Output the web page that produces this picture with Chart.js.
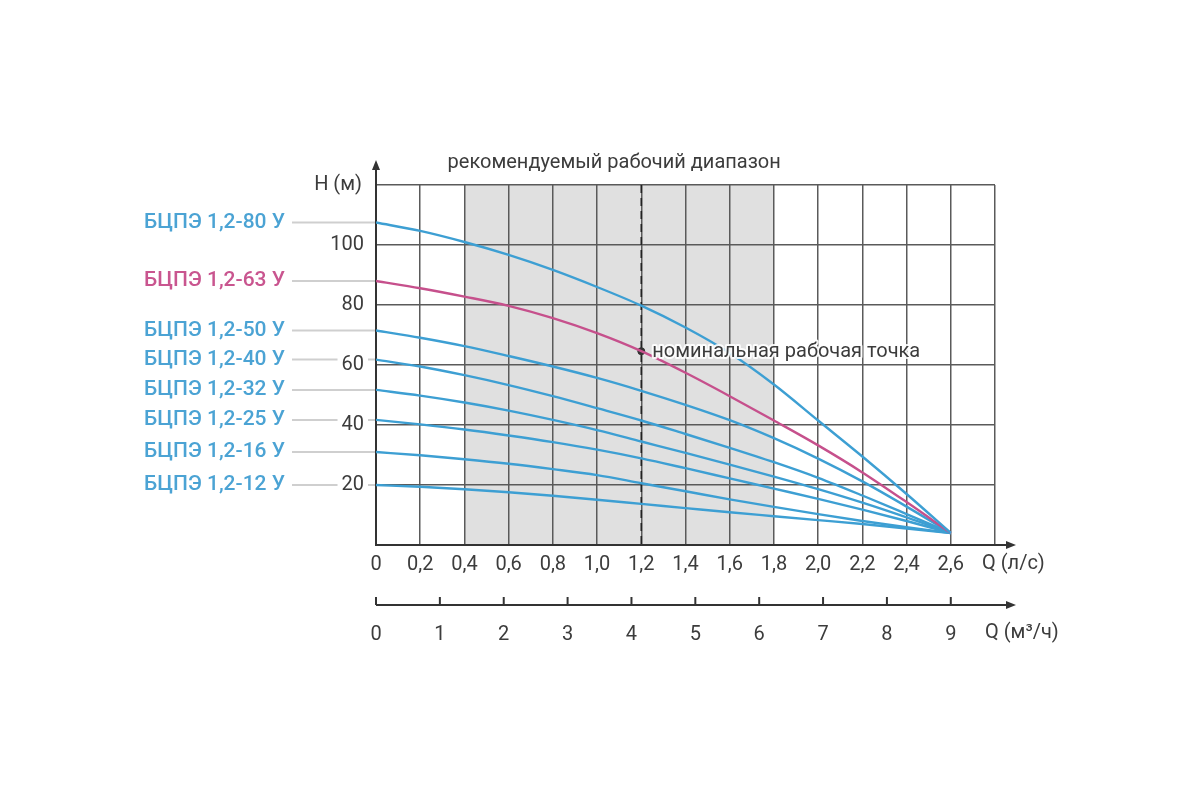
<!DOCTYPE html>
<html>
<head>
<meta charset="utf-8">
<script src="https://cdn.jsdelivr.net/npm/chart.js@4"></script>
<style>
  html, body { margin: 0; padding: 0; background: #fff; }
  #wrap { width: 1200px; height: 800px; }
</style>
</head>
<body>
<div id="wrap"><canvas id="chart" width="1200" height="800"></canvas></div>
<script>
// расход, л/с
const qLs = [0, 0.2, 0.4, 0.6, 0.8, 1.0, 1.2, 1.4, 1.6, 1.8, 2.0, 2.2, 2.4, 2.6];
// второй масштаб, м3/ч
const qM3h = [0, 1, 2, 3, 4, 5, 6, 7, 8, 9];

const pumpNames = ["БЦПЭ 1,2-80 У", "БЦПЭ 1,2-63 У", "БЦПЭ 1,2-50 У", "БЦПЭ 1,2-40 У",
                   "БЦПЭ 1,2-32 У", "БЦПЭ 1,2-25 У", "БЦПЭ 1,2-16 У", "БЦПЭ 1,2-12 У"];

// напор H (м) по точкам qLs
const h80 = [107.5, 104.7, 101, 96.7, 91.7, 86, 79.8, 72.5, 64, 53.5, 41.5, 29.5, 17, 4];
const h63 = [88, 85.6, 82.8, 79.7, 75.6, 70.6, 64.6, 57.4, 49.6, 41.5, 33.2, 24.2, 14.3, 4];
const h50 = [71.5, 69.1, 66.3, 63, 59.5, 55.7, 51.4, 46.7, 41.6, 35.6, 28.8, 21.2, 12.8, 4];
const h40 = [61.8, 59.5, 56.6, 53.3, 49.6, 45.6, 41.5, 37, 32.4, 27.6, 22.4, 16.5, 10.3, 4];
const h32 = [51.7, 49.8, 47.5, 44.8, 41.7, 38.3, 34.5, 30.7, 26.8, 22.8, 18.6, 14.1, 9.2, 4];
const h25 = [41.7, 40.2, 38.5, 36.5, 34.3, 31.8, 28.9, 25.6, 22.2, 18.8, 15.4, 11.8, 8, 4];
const h16 = [31, 29.9, 28.6, 27.1, 25.3, 23.3, 20.6, 17.9, 15.2, 12.7, 10.3, 8, 5.9, 4];
const h12 = [20, 19.4, 18.6, 17.6, 16.4, 15.1, 13.7, 12.3, 10.9, 9.6, 8.3, 7, 5.5, 4];

const curves = [h80, h63, h50, h40, h32, h25, h16, h12];

const rangeFrom = 0.4;
const rangeTo = 1.8;
const nominalQ = 1.2;
const nominalH = 64.6;

const blue = "#3d9fd3";
const pink = "#c6508c";
const labelBlue = "#4ba3d4";
const labelPink = "#c9558f";
const txt = "#3c3c3c";
const font = "Roboto, 'Open Sans', sans-serif";

const lineColors = curves.map((_, i) => (i === 1 ? pink : blue));

const fmtLs = (v) => {
  if (v > 2.7) return "";
  if (Math.abs(v) < 1e-9) return "0";
  return v.toFixed(1).replace(".", ",");
};

const arrow = (ctx, x, y, dir) => {
  ctx.beginPath();
  if (dir === "up") {
    ctx.moveTo(x, y);
    ctx.lineTo(x - 4, y + 10);
    ctx.lineTo(x + 4, y + 10);
  } else {
    ctx.moveTo(x, y);
    ctx.lineTo(x - 10, y - 4);
    ctx.lineTo(x - 10, y + 4);
  }
  ctx.closePath();
  ctx.fill();
};

const decor = {
  id: "decor",
  beforeDraw(chart) {
    const { ctx, chartArea: a, scales: { x, y } } = chart;
    ctx.save();
    // рекомендуемый диапазон
    const x1 = x.getPixelForValue(rangeFrom);
    const x2 = x.getPixelForValue(rangeTo);
    ctx.fillStyle = "#e0e0e0";
    ctx.fillRect(x1, a.top, x2 - x1, a.bottom - a.top);
    // выноски к подписям насосов
    ctx.strokeStyle = "#cfcfcf";
    ctx.lineWidth = 2;
    curves.forEach((c) => {
      const py = y.getPixelForValue(c[0]);
      ctx.beginPath();
      ctx.moveTo(292, py);
      ctx.lineTo(a.left, py);
      ctx.stroke();
    });
    ctx.restore();
  },
  beforeDatasetsDraw(chart) {
    const { ctx, chartArea: a, scales: { x } } = chart;
    ctx.save();
    const px = x.getPixelForValue(nominalQ);
    ctx.strokeStyle = "#222";
    ctx.lineWidth = 1.6;
    ctx.setLineDash([8, 5]);
    ctx.beginPath();
    ctx.moveTo(px, a.top);
    ctx.lineTo(px, a.bottom);
    ctx.stroke();
    ctx.restore();
  },
  afterDraw(chart) {
    const { ctx, chartArea: a, scales: { x, y, x2 } } = chart;
    ctx.save();
    ctx.fillStyle = "#333";
    ctx.strokeStyle = "#333";
    ctx.lineWidth = 2;

    // стрелки осей
    ctx.beginPath();
    ctx.moveTo(a.left, a.top);
    ctx.lineTo(a.left, 166);
    ctx.stroke();
    arrow(ctx, a.left, 160, "up");
    ctx.beginPath();
    ctx.moveTo(a.right, a.bottom);
    ctx.lineTo(1010, a.bottom);
    ctx.stroke();
    arrow(ctx, 1016, a.bottom, "right");

    // вторая шкала м3/ч
    const ly = x2.top + 20;
    ctx.beginPath();
    ctx.moveTo(x2.getPixelForValue(0), ly);
    ctx.lineTo(1010, ly);
    ctx.stroke();
    arrow(ctx, 1016, ly, "right");
    qM3h.forEach((v) => {
      const px = x2.getPixelForValue(v);
      ctx.beginPath();
      ctx.moveTo(px, ly);
      ctx.lineTo(px, ly - 8);
      ctx.stroke();
    });

    // подписи осей
    ctx.font = "20px " + font;
    ctx.fillStyle = txt;
    ctx.textBaseline = "middle";
    ctx.textAlign = "left";
    ctx.fillText("Q (л/с)", a.right - 13, 564);
    ctx.fillText("Q (м³/ч)", a.right - 10, 633);
    ctx.textAlign = "right";
    ctx.fillText("H (м)", a.left - 14, 185);

    // заголовок диапазона
    ctx.textAlign = "center";
    ctx.fillText("рекомендуемый рабочий диапазон", (x.getPixelForValue(rangeFrom) + x.getPixelForValue(rangeTo)) / 2 - 5, 163);

    // номинальная точка
    const nx = x.getPixelForValue(nominalQ);
    const ny = y.getPixelForValue(nominalH);
    ctx.textAlign = "left";
    ctx.lineJoin = "round";
    ctx.strokeStyle = "rgba(255,255,255,0.9)";
    ctx.lineWidth = 4;
    ctx.strokeText("номинальная рабочая точка", nx + 11, ny + 1);
    ctx.fillStyle = txt;
    ctx.fillText("номинальная рабочая точка", nx + 11, ny + 1);

    // подписи насосов
    ctx.font = "500 21px " + font;
    ctx.textAlign = "right";
    curves.forEach((c, i) => {
      ctx.fillStyle = i === 1 ? labelPink : labelBlue;
      ctx.fillText(pumpNames[i], 285, y.getPixelForValue(c[0]));
    });
    ctx.restore();
  }
};

const datasets = curves.map((c, i) => ({
  label: pumpNames[i],
  data: qLs.map((q, j) => ({ x: q, y: c[j] })),
  borderColor: lineColors[i],
  borderWidth: 2.4,
  pointRadius: 0,
  cubicInterpolationMode: "monotone",
  fill: false
}));

datasets.push({
  label: "номинальная рабочая точка",
  type: "scatter",
  data: [{ x: nominalQ, y: nominalH }],
  pointRadius: 3.5,
  pointBackgroundColor: "#333",
  pointBorderColor: "#333"
});

new Chart(document.getElementById("chart").getContext("2d"), {
  type: "line",
  data: { datasets },
  options: {
    responsive: false,
    animation: false,
    layout: { padding: { left: 316, right: 205, top: 185, bottom: 145 } },
    plugins: { legend: { display: false }, tooltip: { enabled: false } },
    scales: {
      x: {
        type: "linear",
        min: 0,
        max: 2.8,
        weight: 0,
        afterFit: (s) => { s.height = 40; },
        ticks: { stepSize: 0.2, callback: fmtLs, color: txt, padding: 8, maxRotation: 0, autoSkip: false, font: { size: 20, family: font } },
        grid: { color: "#5a5a5a", lineWidth: 1.5, drawTicks: false },
        border: { color: "#333", width: 2 }
      },
      x2: {
        type: "linear",
        position: "bottom",
        min: 0,
        max: 9 * 2.8 / 2.6,
        weight: 1,
        afterFit: (s) => { s.height = 70; },
        afterBuildTicks: (s) => { s.ticks = qM3h.map((v) => ({ value: v })); },
        ticks: { color: txt, padding: 30, maxRotation: 0, autoSkip: false, font: { size: 20, family: font } },
        grid: { display: false },
        border: { display: false }
      },
      y: {
        min: 0,
        max: 120,
        afterFit: (s) => { s.width = 60; },
        ticks: {
          stepSize: 20,
          callback: (v) => (v === 0 || v === 120 ? "" : v),
          color: txt,
          padding: 12,
          font: { size: 20, family: font },
          showLabelBackdrop: true,
          backdropColor: "#fff",
          backdropPadding: { top: 0, bottom: 0, left: 4, right: 4 }
        },
        grid: { color: "#5a5a5a", lineWidth: 1.5, drawTicks: false },
        border: { color: "#333", width: 2 }
      }
    }
  },
  plugins: [decor]
});
</script>
</body>
</html>
